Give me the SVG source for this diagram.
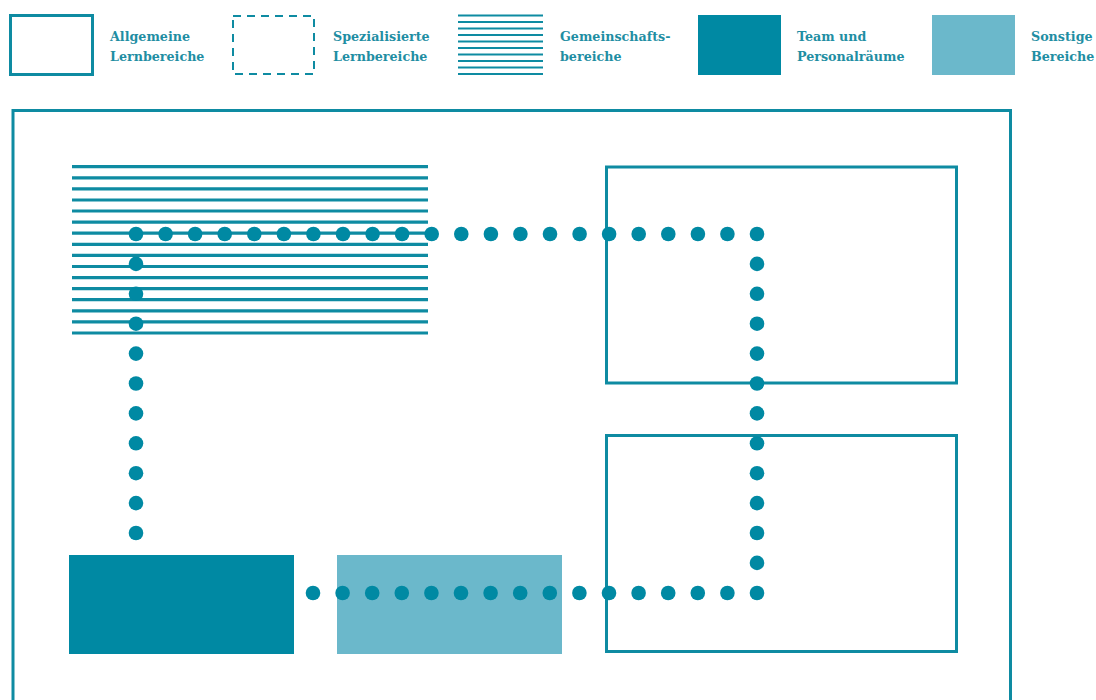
<svg xmlns="http://www.w3.org/2000/svg" width="1096" height="700" viewBox="0 0 1096 700">
<defs>
<style>
.ol{fill:none;stroke:#0e8ba2;stroke-width:3}
.dash{fill:none;stroke:#0e8ba2;stroke-width:2;stroke-dasharray:8 6}
.dark{fill:#0089a3}
.light{fill:#6bb8cb}
.lab{font-family:"DejaVu Serif","Liberation Serif",serif;font-weight:bold;font-size:12.7px;fill:#1f8ea3}
.hatch{stroke:#0e8ba2;stroke-width:3.2}
.lhatch{stroke:#0e8ba2;stroke-width:2.2}
.dot{fill:#0089a3}
</style>
<circle id="d" r="7.3"/>
</defs>
<rect width="1096" height="700" fill="#ffffff"/>

<g id="legend">
<g id="leg-allgemeine">
<rect class="ol" x="10.5" y="15.5" width="82" height="59"/>
<text class="lab" x="110" y="41">Allgemeine</text>
<text class="lab" x="110" y="61">Lernbereiche</text>
</g>
<g id="leg-spezialisiert">
<rect class="dash" x="233" y="16" width="81" height="58"/>
<text class="lab" x="333" y="41">Spezialisierte</text>
<text class="lab" x="333" y="61">Lernbereiche</text>
</g>
<g id="leg-gemeinschaft" class="lhatch">
<line x1="458" y1="15.5" x2="543" y2="15.5"/>
<line x1="458" y1="22" x2="543" y2="22"/>
<line x1="458" y1="28.5" x2="543" y2="28.5"/>
<line x1="458" y1="35" x2="543" y2="35"/>
<line x1="458" y1="41.5" x2="543" y2="41.5"/>
<line x1="458" y1="48" x2="543" y2="48"/>
<line x1="458" y1="54.5" x2="543" y2="54.5"/>
<line x1="458" y1="61" x2="543" y2="61"/>
<line x1="458" y1="67.5" x2="543" y2="67.5"/>
<line x1="458" y1="74" x2="543" y2="74"/>
<text class="lab" x="560" y="41" stroke="none">Gemeinschafts-</text>
<text class="lab" x="560" y="61" stroke="none">bereiche</text>
</g>
<g id="leg-team">
<rect class="dark" x="698" y="15" width="83" height="60"/>
<text class="lab" x="797" y="41">Team und</text>
<text class="lab" x="797" y="61">Personalräume</text>
</g>
<g id="leg-sonstige">
<rect class="light" x="932" y="15" width="83" height="60"/>
<text class="lab" x="1031" y="41">Sonstige</text>
<text class="lab" x="1031" y="61">Bereiche</text>
</g>
</g>

<g id="frame">
<rect class="ol" x="13" y="110.5" width="997.5" height="620"/>
</g>

<g id="gemeinschaftsbereich" class="hatch">
<line x1="72" y1="166.7" x2="428" y2="166.7"/>
<line x1="72" y1="177.8" x2="428" y2="177.8"/>
<line x1="72" y1="188.9" x2="428" y2="188.9"/>
<line x1="72" y1="200" x2="428" y2="200"/>
<line x1="72" y1="211" x2="428" y2="211"/>
<line x1="72" y1="222.1" x2="428" y2="222.1"/>
<line x1="72" y1="233.2" x2="428" y2="233.2"/>
<line x1="72" y1="244.3" x2="428" y2="244.3"/>
<line x1="72" y1="255.4" x2="428" y2="255.4"/>
<line x1="72" y1="266.5" x2="428" y2="266.5"/>
<line x1="72" y1="277.6" x2="428" y2="277.6"/>
<line x1="72" y1="288.7" x2="428" y2="288.7"/>
<line x1="72" y1="299.7" x2="428" y2="299.7"/>
<line x1="72" y1="310.8" x2="428" y2="310.8"/>
<line x1="72" y1="321.9" x2="428" y2="321.9"/>
<line x1="72" y1="333" x2="428" y2="333"/>
</g>
<g id="lernbereich-oben">
<rect class="ol" x="606.5" y="167" width="350" height="216"/>
</g>
<g id="lernbereich-unten">
<rect class="ol" x="606.5" y="435.5" width="350" height="216"/>
</g>
<g id="team">
<rect class="dark" x="69" y="555" width="225" height="99"/>
</g>
<g id="sonstige">
<rect class="light" x="337" y="555" width="225" height="99"/>
</g>

<g id="connectors" class="dot">
<use href="#d" x="136" y="234"/><use href="#d" x="165.6" y="234"/><use href="#d" x="195.1" y="234"/><use href="#d" x="224.7" y="234"/><use href="#d" x="254.3" y="234"/><use href="#d" x="283.9" y="234"/><use href="#d" x="313.4" y="234"/><use href="#d" x="343" y="234"/><use href="#d" x="372.6" y="234"/><use href="#d" x="402.1" y="234"/><use href="#d" x="431.7" y="234"/><use href="#d" x="461.3" y="234"/><use href="#d" x="490.9" y="234"/><use href="#d" x="520.4" y="234"/><use href="#d" x="550" y="234"/><use href="#d" x="579.6" y="234"/><use href="#d" x="609.1" y="234"/><use href="#d" x="638.7" y="234"/><use href="#d" x="668.3" y="234"/><use href="#d" x="697.9" y="234"/><use href="#d" x="727.4" y="234"/><use href="#d" x="757" y="234"/>
<use href="#d" x="136" y="263.9"/><use href="#d" x="136" y="293.8"/><use href="#d" x="136" y="323.7"/><use href="#d" x="136" y="353.6"/><use href="#d" x="136" y="383.5"/><use href="#d" x="136" y="413.4"/><use href="#d" x="136" y="443.3"/><use href="#d" x="136" y="473.2"/><use href="#d" x="136" y="503.1"/><use href="#d" x="136" y="533"/>
<use href="#d" x="757" y="263.9"/><use href="#d" x="757" y="293.8"/><use href="#d" x="757" y="323.7"/><use href="#d" x="757" y="353.6"/><use href="#d" x="757" y="383.5"/><use href="#d" x="757" y="413.4"/><use href="#d" x="757" y="443.3"/><use href="#d" x="757" y="473.2"/><use href="#d" x="757" y="503.1"/><use href="#d" x="757" y="533"/><use href="#d" x="757" y="562.9"/>
<use href="#d" x="313" y="593"/><use href="#d" x="342.6" y="593"/><use href="#d" x="372.2" y="593"/><use href="#d" x="401.8" y="593"/><use href="#d" x="431.4" y="593"/><use href="#d" x="461" y="593"/><use href="#d" x="490.6" y="593"/><use href="#d" x="520.2" y="593"/><use href="#d" x="549.8" y="593"/><use href="#d" x="579.4" y="593"/><use href="#d" x="609" y="593"/><use href="#d" x="638.6" y="593"/><use href="#d" x="668.2" y="593"/><use href="#d" x="697.8" y="593"/><use href="#d" x="727.4" y="593"/><use href="#d" x="757" y="593"/>
</g>
</svg>
